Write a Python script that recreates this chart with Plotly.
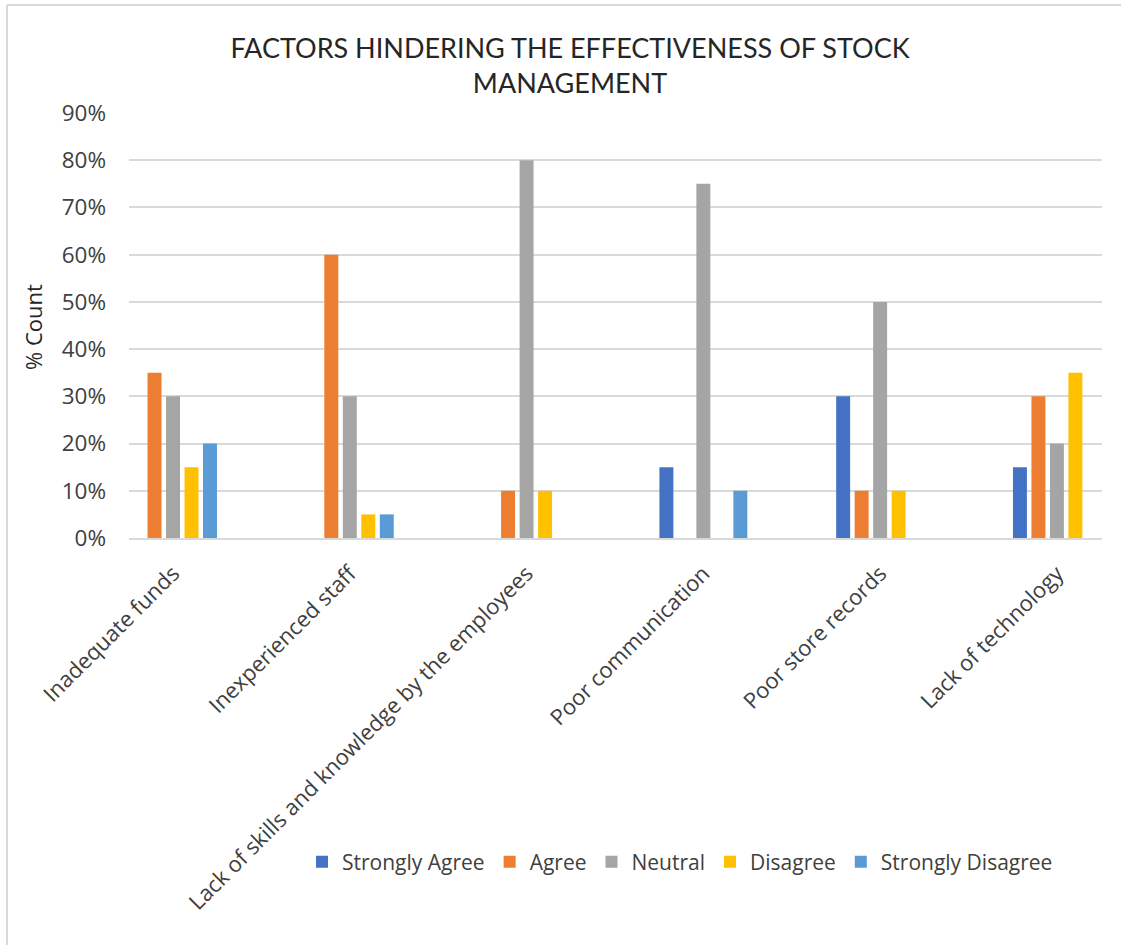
import plotly.graph_objects as go

# Survey results: share of respondents per factor and response level
categories = [
    "Inadequate funds",
    "Inexperienced staff",
    "Lack of skills and knowledge by the employees",
    "Poor communication",
    "Poor store records",
    "Lack of technology",
]
strongly_agree = [0.00, 0.00, 0.00, 0.15, 0.30, 0.15]
agree = [0.35, 0.60, 0.10, 0.00, 0.10, 0.30]
neutral = [0.30, 0.30, 0.80, 0.75, 0.50, 0.20]
disagree = [0.15, 0.05, 0.10, 0.00, 0.10, 0.35]
strongly_disagree = [0.20, 0.05, 0.00, 0.10, 0.00, 0.00]

series = [
    ("Strongly Agree", strongly_agree, "#4472C4"),
    ("Agree", agree, "#ED7D31"),
    ("Neutral", neutral, "#A5A5A5"),
    ("Disagree", disagree, "#FFC000"),
    ("Strongly Disagree", strongly_disagree, "#5B9BD5"),
]

W, H = 1121, 945
L, R, T, B = 129, 1102, 113, 538  # plot area in pixels

FONT = "Open Sans, Segoe UI, DejaVu Sans, sans-serif"
TXT = "#404040"

fig = go.Figure()
for name, vals, color in series:
    fig.add_trace(go.Bar(
        name=name, x=categories, y=vals,
        marker=dict(color=color, line=dict(width=0)),
    ))


def px_x(p):
    return (p - L) / (R - L)


def px_y(p):
    return (B - p) / (B - T)


fig.update_layout(
    width=W, height=H,
    margin=dict(l=L, r=W - R, t=T, b=H - B, autoexpand=False),
    paper_bgcolor="white", plot_bgcolor="white",
    barmode="group", bargap=0.477, bargroupgap=0.245,
    font=dict(family=FONT, color=TXT, size=22),
    title=dict(
        text="FACTORS HINDERING THE EFFECTIVENESS OF STOCK<br>MANAGEMENT",
        x=570 / W, xanchor="center", xref="container",
        y=1 - 58 / H, yanchor="middle",
        font=dict(family="Lato, " + FONT, size=27, color="#262626"),
    ),
    xaxis=dict(
        type="category",
        range=[-0.249, 5.255],
        tickangle=-45,
        tickfont=dict(size=22, color=TXT),
        ticklabelstandoff=12,
        showgrid=False,
        showline=True, linecolor="#d9d9d9", linewidth=2,
        ticks="",
    ),
    yaxis=dict(
        range=[0, 0.9],
        dtick=0.1,
        tickformat=".0%",
        tickfont=dict(size=22.5, color=TXT),
        ticklabelstandoff=22,
        showgrid=True, gridcolor="#d9d9d9", gridwidth=2,
        zeroline=False,
        ticks="", ticklen=0,
        automargin=False,
    ),
    legend=dict(
        orientation="h",
        x=px_x(302), xanchor="left",
        y=px_y(862), yanchor="middle",
        font=dict(size=21, color=TXT),
        itemwidth=30,
        traceorder="normal",
        bgcolor="rgba(0,0,0,0)",
    ),
    showlegend=True,
)

# vertical axis title
fig.add_annotation(
    text="% Count", textangle=-90,
    xref="paper", yref="paper", x=px_x(33), y=px_y(327),
    xanchor="center", yanchor="middle", showarrow=False,
    font=dict(size=22, color="#262626"),
)

# chart frame edges along the top and left
fig.add_shape(type="line", xref="paper", yref="paper",
              x0=px_x(7), x1=px_x(1121), y0=px_y(5), y1=px_y(5),
              line=dict(color="#d9d9d9", width=2))
fig.add_shape(type="line", xref="paper", yref="paper",
              x0=px_x(7), x1=px_x(7), y0=px_y(5), y1=px_y(945),
              line=dict(color="#d9d9d9", width=2))

fig.write_html("out.html")
